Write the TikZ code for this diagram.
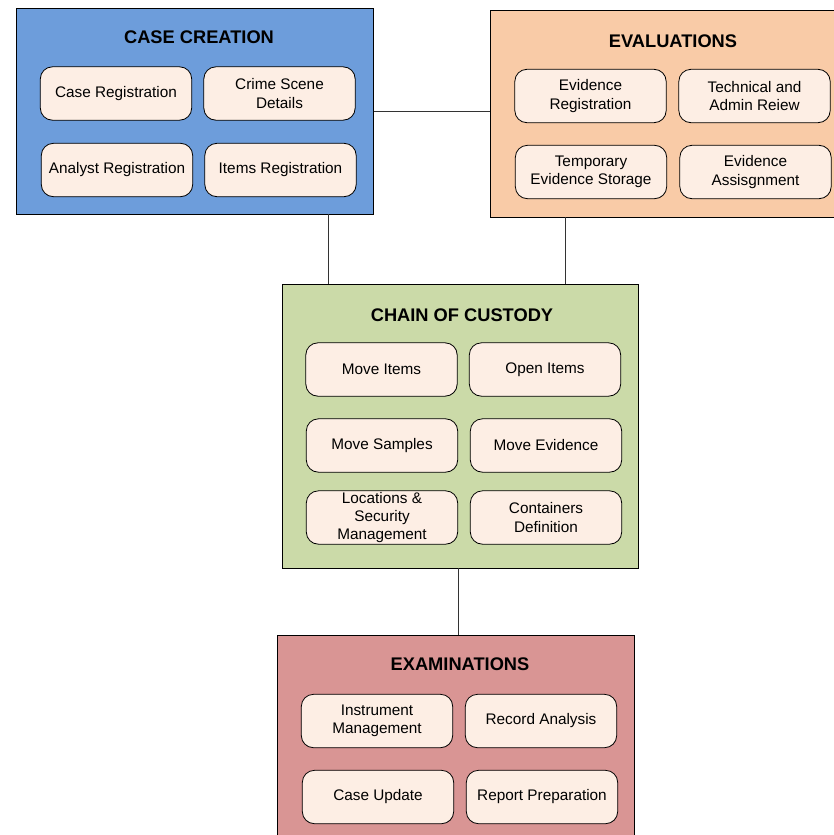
\documentclass[tikz,border=0pt]{standalone}
\usepackage{fontspec}
\setmainfont{Liberation Sans}
\usetikzlibrary{positioning}

\definecolor{caseblue}{RGB}{109,157,219}
\definecolor{evalorange}{RGB}{249,203,167}
\definecolor{custgreen}{RGB}{203,218,168}
\definecolor{examred}{RGB}{217,149,148}
\definecolor{itemfill}{RGB}{253,238,228}

\tikzset{
  groupbox/.style={draw=black, line width=0.75pt, rectangle, inner sep=0pt},
  grouptitle/.style={font=\fontsize{13.7}{16}\selectfont\bfseries, inner sep=0.75pt},
  itembox/.style={draw=black, line width=0.6pt, fill=itemfill, rounded corners=9pt,
    minimum width=113.5pt, minimum height=40pt, inner sep=1pt, align=center,
    font=\fontsize{11.5}{13.6}\selectfont},
  link/.style={draw=black!80, line width=0.75pt}
}

\begin{document}
\begin{tikzpicture}[x=0.75pt,y=0.75pt,yscale=-1,xscale=1]
  \useasboundingbox (0,0) rectangle (834,835);
  \clip (0,0) rectangle (834,835);

  % Group boxes
  \node [groupbox, fill=caseblue, minimum width=267.75pt, minimum height=154.5pt] (casecr) at (194.5,111) {};
  \node [groupbox, fill=evalorange, minimum width=270pt, minimum height=155.25pt] (evals) at (670,113.5) {};
  \node [groupbox, fill=custgreen, minimum width=267pt, minimum height=213pt] (custody) at (460,426) {};
  \node [groupbox, fill=examred, minimum width=267.75pt, minimum height=161.25pt] (exams) at (455.5,742.5) {};

  % Titles
  \node [grouptitle] (casecrtitle) at (199,37) {CASE CREATION};
  \node [grouptitle] (evalstitle) at (673,41) {EVALUATIONS};
  \node [grouptitle] (custodytitle) at (462,315) {CHAIN OF CUSTODY};
  \node [grouptitle] (examstitle) at (460,664) {EXAMINATIONS};

  % Case creation
  \node [itembox] (casereg) at (116,93.5) {Case Registration};
  \node [itembox] (crimescene) at (279.5,93.5) {Crime Scene\\Details};
  \node [itembox] (analystreg) at (117,170) {Analyst Registration};
  \node [itembox] (itemsreg) at (280.5,170) {Items Registration};

  % Evaluations
  \node [itembox] (evidreg) at (590.5,96) {Evidence\\Registration};
  \node [itembox] (techrev) at (754.5,96) {Technical and\\Admin Reiew};
  \node [itembox] (tempstore) at (591,172) {Temporary\\Evidence Storage};
  \node [itembox] (evidassign) at (755.5,172) {Evidence\\Assisgnment};

  % Chain of custody
  \node [itembox] (moveitems) at (381.5,369.5) {Move Items};
  \node [itembox] (openitems) at (545,369.5) {Open Items};
  \node [itembox] (movesamples) at (382,445.5) {Move Samples};
  \node [itembox] (moveevid) at (546,445.5) {Move Evidence};
  \node [itembox] (locations) at (382,517.5) {Locations \&\\Security\\Management};
  \node [itembox] (containers) at (546,517.5) {Containers\\Definition};

  % Examinations
  \node [itembox] (instrument) at (377,721) {Instrument\\Management};
  \node [itembox] (recordan) at (541,721) {Record Analysis};
  \node [itembox] (caseupd) at (378,797) {Case Update};
  \node [itembox] (reportprep) at (542,797) {Report Preparation};

  % Links
  \coordinate (casedrop) at (328,214);
  \coordinate (evaldrop) at (565,217);
  \coordinate (custdrop) at (458,568);
  \draw [link] (casecr.east) -- (casecr.east -| evals.west);
  \draw [link] (casedrop) -- (casedrop |- custody.north);
  \draw [link] (evaldrop) -- (evaldrop |- custody.north);
  \draw [link] (custdrop) -- (custdrop |- exams.north);

\end{tikzpicture}
\end{document}
